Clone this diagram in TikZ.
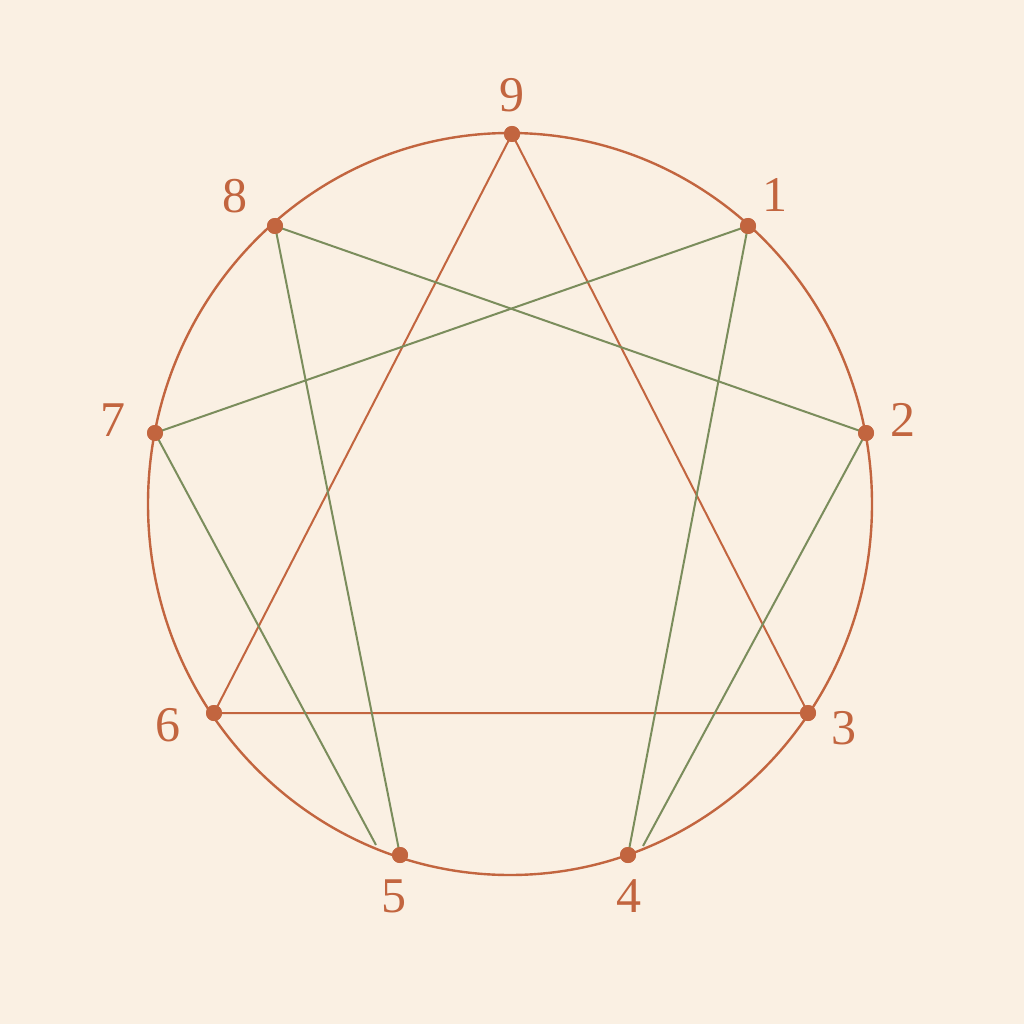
\documentclass[tikz,border=0pt]{standalone}
\usepackage{fontspec}
\setmainfont{Liberation Serif}
\definecolor{paper}{HTML}{FAF0E3}
\definecolor{rust}{HTML}{C2653F}
\definecolor{sage}{HTML}{7B8D5C}
\tikzset{
  dot/.style={shape=circle, fill=rust, inner sep=0pt, minimum size=16pt},
  lbl/.style={text=rust, inner sep=0pt, font=\fontsize{50}{60}\selectfont},
  tri/.style={draw=rust, line width=2pt},
  hex/.style={draw=sage, line width=2pt}
}

\begin{document}
\begin{tikzpicture}[x=1pt, y=-1pt]
     \useasboundingbox[fill=paper] (0,0) rectangle (1024,1024);
     \draw[rust, line width=2.4pt] (510,504) ellipse [x radius=362pt, y radius=371pt];

     \node[dot] (p9) at (512,134) {};
     \node[dot] (p1) at (748,226) {};
     \node[dot] (p2) at (866,433) {};
     \node[dot] (p3) at (808,713) {};
     \node[dot] (p4) at (628,855) {};
     \node[dot] (p5) at (400,855) {};
     \node[dot] (p6) at (214,713) {};
     \node[dot] (p7) at (155,433) {};
     \node[dot] (p8) at (275,226) {};
     \coordinate (e4) at (643,846);
     \coordinate (e5) at (376,845);

     % inner triangle
     \path[tri] (p9.center) -- (p3.center) -- (p6.center) -- cycle;
     % hexad
     \path[hex] (p1.center) -- (p4.center);
     \path[hex] (e4) -- (p2.center);
     \path[hex] (p2.center) -- (p8.center);
     \path[hex] (p8.center) -- (p5.center);
     \path[hex] (e5) -- (p7.center);
     \path[hex] (p7.center) -- (p1.center);

     \foreach \n in {1,...,9}
       \node[dot] at (p\n) {};

     \node[lbl] (l9) at (512,95)  {9};
     \node[lbl] (l1) at (775,195) {1};
     \node[lbl] (l2) at (903,420) {2};
     \node[lbl] (l3) at (844,728) {3};
     \node[lbl] (l4) at (629,896) {4};
     \node[lbl] (l5) at (394,896) {5};
     \node[lbl] (l6) at (168,725) {6};
     \node[lbl] (l7) at (113,420) {7};
     \node[lbl] (l8) at (235,196) {8};
    \end{tikzpicture}
\end{document}
